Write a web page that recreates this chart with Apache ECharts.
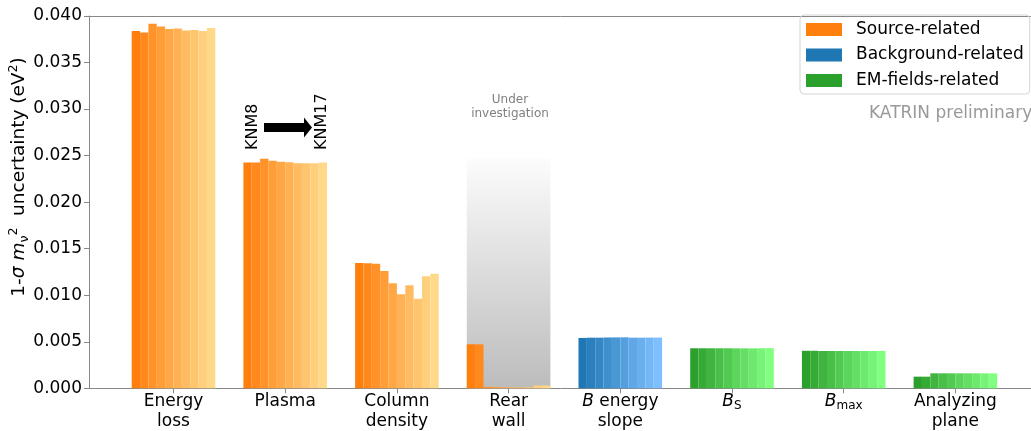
<!DOCTYPE html>
<html><head><meta charset="utf-8">
<script src="https://cdn.jsdelivr.net/npm/echarts@6/dist/echarts.min.js"></script>
<style>html,body{margin:0;padding:0;background:#fff}#c{width:1031px;height:431px}</style>
</head><body><div id="c"></div>
<script>
// ---- data ----
const categories = ['Energy\nloss', 'Plasma', 'Column\ndensity', 'Rear\nwall', '{i|B} energy\nslope', '{i|B}{sub|S}', '{i|B}{sub|max}', 'Analyzing\nplane'];
const periods = ['KNM8', 'KNM9', 'KNM10', 'KNM11', 'KNM12', 'KNM13', 'KNM14', 'KNM15', 'KNM16', 'KNM17'];
const energyLoss    = [0.03839, 0.03824, 0.03917, 0.03888, 0.03860, 0.03867, 0.03845, 0.03850, 0.03839, 0.03871];
const plasma        = [0.02426, 0.02426, 0.02466, 0.02444, 0.02433, 0.02430, 0.02419, 0.02419, 0.02419, 0.02426];
const columnDensity = [0.01347, 0.01344, 0.01337, 0.01261, 0.01129, 0.01011, 0.01108, 0.00963, 0.01204, 0.01232];
const rearWall      = [0.00473, 0.00473, 0.00015, 0.00015, 0.00010, 0.00010, 0.00010, 0.00012, 0.00030, 0.00030];
const bEnergySlope  = [0.00541, 0.00544, 0.00544, 0.00546, 0.00547, 0.00548, 0.00544, 0.00544, 0.00545, 0.00545];
const bS            = [0.00430, 0.00430, 0.00430, 0.00430, 0.00430, 0.00429, 0.00429, 0.00429, 0.00430, 0.00432];
const bMax          = [0.00403, 0.00403, 0.00401, 0.00401, 0.00401, 0.00401, 0.00401, 0.00401, 0.00401, 0.00402];
const analyzingPlane= [0.00125, 0.00125, 0.00161, 0.00161, 0.00161, 0.00161, 0.00161, 0.00161, 0.00161, 0.00161];
const investigationBand = [null, null, null, 0.0247, null, null, null, null];
const groups = ['Source-related', 'Background-related', 'EM-fields-related'];
const categoryGroup = [0, 0, 0, 0, 1, 2, 2, 2];
const yMin = 0, yMax = 0.04, yStep = 0.005;

// ---- styles ----
const FONT = 'DejaVu Sans';
const SPINE = '#888';
const groupDark  = [[255, 127, 14], [31, 119, 180], [44, 160, 44]];
const groupLight = [[255, 217, 138], [127, 191, 255], [128, 255, 128]];
function shade(g, k) {
  const t = k / (periods.length - 1);
  const a = groupDark[g], b = groupLight[g];
  return 'rgb(' + a.map((v, i) => Math.round(v + (b[i] - v) * t)).join(',') + ')';
}
const allValues = [energyLoss, plasma, columnDensity, rearWall, bEnergySlope, bS, bMax, analyzingPlane];

const series = periods.map((p, k) => ({
  name: p, type: 'bar', xAxisIndex: 2, yAxisIndex: 1,
  barWidth: 8.36, barGap: '0%', z: 3,
  data: allValues.map((arr, c) => ({ value: arr[k], itemStyle: { color: shade(categoryGroup[c], k) } }))
}));
series.push({
  name: 'band', type: 'bar', xAxisIndex: 3, yAxisIndex: 1, barWidth: 83.6, z: 1, silent: true,
  itemStyle: { color: new echarts.graphic.LinearGradient(0, 0, 0, 1, [{ offset: 0, color: '#fcfcfc' }, { offset: 1, color: '#bcbcbc' }]) },
  data: investigationBand
});
groups.forEach((g, i) => series.push({
  name: g, type: 'bar', xAxisIndex: 0, yAxisIndex: 0, data: [],
  itemStyle: { color: 'rgb(' + groupDark[i].join(',') + ')' }
}));

const plotTop = 16, plotBottom = 388.3, left = 89;
const band = 111.7, firstCenter = 173.5;
const gridBLeft = firstCenter - band / 2;

const chart = echarts.init(document.getElementById('c'), null, { renderer: 'canvas' });
chart.setOption({
  animation: false,
  textStyle: { fontFamily: FONT },
  grid: [
    { left: left, top: plotTop, width: 960, height: plotBottom - plotTop, outerBoundsMode: 'none', containLabel: false },
    { left: gridBLeft, top: plotTop, width: band * 8, height: plotBottom - plotTop, outerBoundsMode: 'none', containLabel: false }
  ],
  xAxis: [
    { gridIndex: 0, type: 'value', min: 0, max: 1, position: 'bottom',
      axisLine: { show: true, lineStyle: { color: SPINE } }, axisTick: { show: false }, axisLabel: { show: false }, splitLine: { show: false } },
    { gridIndex: 0, type: 'value', min: 0, max: 1, position: 'top',
      axisLine: { show: true, lineStyle: { color: SPINE } }, axisTick: { show: false }, axisLabel: { show: false }, splitLine: { show: false } },
    { gridIndex: 1, type: 'category', data: categories,
      axisLine: { show: false },
      axisTick: { show: true, alignWithLabel: true, length: 5, lineStyle: { color: SPINE } },
      axisLabel: { interval: 0, margin: 4, fontSize: 17, color: '#000', fontFamily: FONT, lineHeight: 19.5,
        rich: {
          i: { fontStyle: 'italic', fontSize: 17, fontFamily: FONT, color: '#000', lineHeight: 19.5 },
          sub: { fontSize: 12, fontFamily: FONT, color: '#000', verticalAlign: 'bottom', lineHeight: 19.5 }
        } } },
    { gridIndex: 1, type: 'category', data: categories, show: false }
  ],
  yAxis: [
    { gridIndex: 0, type: 'value', min: yMin, max: yMax, interval: yStep,
      axisLine: { show: true, lineStyle: { color: SPINE } }, splitLine: { show: false },
      axisTick: { show: true, length: 5, lineStyle: { color: SPINE } },
      axisLabel: { margin: 7, fontSize: 17, color: '#000', fontFamily: FONT, formatter: v => v.toFixed(3) } },
    { gridIndex: 1, type: 'value', min: yMin, max: yMax, show: false }
  ],
  legend: {
    data: groups.map(g => ({ name: g, icon: 'rect' })),
    orient: 'vertical', left: 800, top: 15,
    itemWidth: 36, itemHeight: 13, itemGap: 8.5,
    padding: [6, 6, 5, 6],
    borderColor: '#d4d4d4', borderWidth: 1, borderRadius: 4,
    textStyle: { fontSize: 17, color: '#000', fontFamily: FONT, padding: [0, 0, 0, 9] }
  },
  series: series,
  graphic: [
    { type: 'text', x: 19, y: 177, rotation: Math.PI / 2, silent: true,
      style: { text: '1-{i|σ} {i|m}{sub|ν}{sup|2}  uncertainty (eV{sup|2})', align: 'center', verticalAlign: 'middle',
        fontSize: 18.5, fontFamily: FONT, fill: '#000',
        rich: {
          i: { fontStyle: 'italic', fontSize: 18.5, fontFamily: FONT, lineHeight: 24 },
          sub: { fontSize: 12.5, fontFamily: FONT, verticalAlign: 'bottom', lineHeight: 24 },
          sup: { fontSize: 12.5, fontFamily: FONT, verticalAlign: 'top', lineHeight: 24 }
        } } },
    { type: 'text', x: 253, y: 150, rotation: Math.PI / 2, silent: true,
      style: { text: 'KNM8', align: 'left', verticalAlign: 'middle', fontSize: 16, fontFamily: FONT, fill: '#000' } },
    { type: 'text', x: 321.5, y: 150, rotation: Math.PI / 2, silent: true,
      style: { text: 'KNM17', align: 'left', verticalAlign: 'middle', fontSize: 16, fontFamily: FONT, fill: '#000' } },
    { type: 'polygon', silent: true,
      shape: { points: [[264, 123], [304, 123], [304, 117.5], [312, 127.5], [304, 137.5], [304, 132], [264, 132]] },
      style: { fill: '#000' } },
    { type: 'text', x: 510, y: 107, silent: true,
      style: { text: 'Under\ninvestigation', align: 'center', verticalAlign: 'middle', fontSize: 12, lineHeight: 13.5, fontFamily: FONT, fill: '#808080' } },
    { type: 'text', x: 869, y: 114, silent: true,
      style: { text: 'KATRIN preliminary', align: 'left', verticalAlign: 'middle', fontSize: 17, fontFamily: FONT, fill: '#999' } }
  ]
});
</script>
</body></html>
